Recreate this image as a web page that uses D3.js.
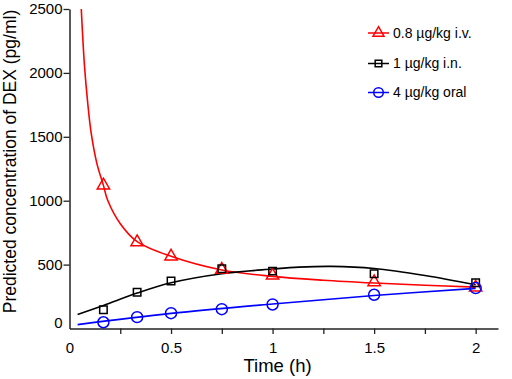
<!DOCTYPE html>
<html><head><meta charset="utf-8">
<script src="https://cdn.jsdelivr.net/npm/d3@7/dist/d3.min.js"></script>
<style>body{margin:0;background:#fff}svg{display:block;font-family:"Liberation Sans",Arial,sans-serif}</style>
</head><body><svg id="c" width="512" height="379"></svg>
<script>
// observed sampling times (h)
const times = [0.167, 0.333, 0.5, 0.75, 1, 1.5, 2];
// observed points
const ivValues   = [1120, 676, 564, 460, 415, 363, 321];
const inValues   = [147, 284, 371, 468, 449, 429, 358];
const oralValues = [49, 89, 120, 151, 188, 264, 316];
// fitted curves (time, value)
const ivCurveT   = [0.058, 0.074, 0.09, 0.107, 0.135, 0.167, 0.188, 0.25, 0.333, 0.5, 0.75, 1.0, 1.25, 1.5, 1.75, 2.0];
const ivCurveV   = [2500, 2050, 1760, 1526, 1290, 1120, 1003, 820, 680, 565, 458, 408, 378, 356, 338, 324];
const inCurveT   = [0.04, 0.167, 0.333, 0.5, 0.75, 1.0, 1.13, 1.29, 1.5, 1.75, 2.0];
const inCurveV   = [110, 180, 277, 358, 429, 465, 480, 486, 470, 415, 342];
const oralCurveT = [0.04, 0.5, 1.0, 1.5, 2.0];
const oralCurveV = [30, 118, 192, 258, 314];
// axis ticks
const yTicks = [0, 500, 1000, 1500, 2000, 2500];
const xTicks = [0, 0.25, 0.5, 0.75, 1, 1.25, 1.5, 1.75, 2];
const xLabels = [0, 0.5, 1, 1.5, 2];
const seriesNames = ["0.8 µg/kg i.v.", "1 µg/kg i.n.", "4 µg/kg oral"];
const seriesColors = ["#ff0000", "#000000", "#0000ff"];

const svg = d3.select("#c");
const x = d3.scaleLinear().domain([0, 2.11]).range([69.5, 498]);
const y = d3.scaleLinear().domain([0, 2500]).range([328.5, 9]);

const axisColor = "#222";
// Y axis
const gy = svg.append("g").attr("transform", "translate(69.5,0)")
  .call(d3.axisLeft(y).tickValues(yTicks).tickSize(6).tickPadding(1).tickSizeOuter(0).tickFormat(d3.format("d")));
gy.select(".domain").attr("stroke", axisColor).attr("stroke-width", 1.5);
gy.selectAll(".tick line").attr("stroke", axisColor).attr("stroke-width", 1.3);
gy.selectAll(".tick text").attr("font-size", 15).attr("font-family", "Liberation Sans, Arial").attr("fill", "#000");
gy.selectAll(".tick").filter(d => d === 0).select("line").remove();
gy.selectAll(".tick").filter(d => d === 0).select("text").attr("dy", "-0.1em");

// X axis
const gx = svg.append("g").attr("transform", "translate(0,328.5)")
  .call(d3.axisBottom(x).tickValues(xTicks).tickSize(5.5).tickPadding(8.5).tickSizeOuter(0)
    .tickFormat(d => xLabels.includes(d) ? d3.format("~g")(d) : ""));
gx.select(".domain").attr("stroke", axisColor).attr("stroke-width", 1.5);
gx.selectAll(".tick line").attr("stroke", axisColor).attr("stroke-width", 1.3);
gx.selectAll(".tick").filter(d => d === 0).select("line").remove();
gx.selectAll(".tick text").attr("font-size", 15).attr("font-family", "Liberation Sans, Arial").attr("fill", "#000");

// axis titles
svg.append("text").attr("x", 277.5).attr("y", 371.5).attr("text-anchor", "middle")
  .attr("font-size", 18.5).text("Time (h)");
svg.append("text").attr("transform", "translate(16,161.5) rotate(-90)").attr("text-anchor", "middle")
  .attr("font-size", 17.5).text("Predicted concentration of DEX (pg/ml)");

// curves
const line = d3.line().x(d => x(d[0])).y(d => y(d[1])).curve(d3.curveCatmullRom.alpha(0.5));
const curves = [
  d3.zip(ivCurveT, ivCurveV),
  d3.zip(inCurveT, inCurveV),
  d3.zip(oralCurveT, oralCurveV)
];
curves.forEach((c, i) => {
  svg.append("path").datum(c).attr("d", line).attr("fill", "none")
    .attr("stroke", seriesColors[i]).attr("stroke-width", 1.6);
});

// markers
const symTypes = [d3.symbolTriangle, d3.symbolSquare, d3.symbolCircle];
const symSizes = [66, 56, 95];
const legSizes = [52, 44, 72];
const vals = [ivValues, inValues, oralValues];
vals.forEach((v, i) => {
  svg.append("g").selectAll("path").data(d3.zip(times, v)).join("path")
    .attr("transform", d => `translate(${x(d[0])},${y(d[1])})`)
    .attr("d", d3.symbol().type(symTypes[i]).size(symSizes[i]))
    .attr("fill", "none").attr("stroke", seriesColors[i]).attr("stroke-width", 1.5);
});

// legend
const legY = [33, 63.5, 92.5];
seriesNames.forEach((name, i) => {
  const g = svg.append("g").attr("transform", `translate(0,${legY[i]})`);
  g.append("line").attr("x1", 368).attr("x2", 389).attr("y1", 0).attr("y2", 0)
    .attr("stroke", seriesColors[i]).attr("stroke-width", 1.5);
  g.append("path").attr("transform", "translate(378.5,0)")
    .attr("d", d3.symbol().type(symTypes[i]).size(legSizes[i]))
    .attr("fill", "none").attr("stroke", seriesColors[i]).attr("stroke-width", 1.5);
  g.append("text").attr("x", 393).attr("y", 0).attr("dy", "0.35em").attr("font-size", 14).text(name);
});
</script></body></html>
